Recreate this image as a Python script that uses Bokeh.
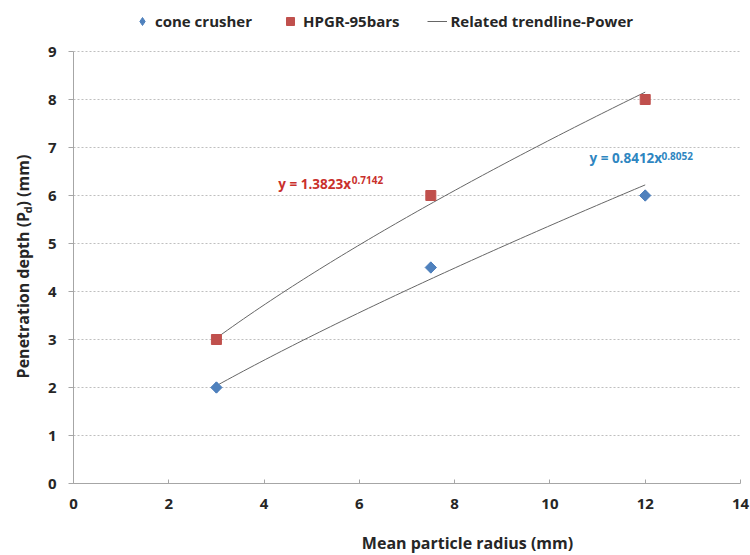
import numpy as np
from bokeh.plotting import figure
from bokeh.models import Legend, LegendItem, Label, Range1d, FixedTicker
from bokeh.embed import file_html
from bokeh.resources import INLINE

# ---- data ----
radius_cone = [3, 7.5, 12]
depth_cone = [2, 4.5, 6]
radius_hpgr = [3, 7.5, 12]
depth_hpgr = [3, 6, 8]
# power trendline coefficients shown on the chart (y = a * x^b)
cone_a, cone_b = 0.8412, 0.8052
hpgr_a, hpgr_b = 1.3823, 0.7142
x_ticks = [0, 2, 4, 6, 8, 10, 12, 14]
y_ticks = [0, 1, 2, 3, 4, 5, 6, 7, 8, 9]

trend_x = np.linspace(min(radius_cone), max(radius_cone), 80)
trend_cone = cone_a * trend_x ** cone_b
trend_hpgr = hpgr_a * trend_x ** hpgr_b

BLUE = "#4F81BD"
RED = "#C0504D"
FONT = "Open Sans"
TXT = "#262626"
GRID = "#BFBFBF"

# plot area spans x 0..14 (px 73..740) and y 0..9 (px 483..51);
# the frame fills the whole canvas so that titles and legend are not clipped
W, H = 750, 555
L, R, T, B = 73, 10, 51, 72
sx = (W - L - R) / 14.0
sy = (H - T - B) / 9.0
p = figure(width=W, height=H, output_backend="svg", toolbar_location=None, title=None,
           x_range=Range1d(-L / sx, 14 + R / sx), y_range=Range1d(-B / sy, 9 + T / sy),
           min_border=0, min_border_left=0, min_border_right=0,
           min_border_top=0, min_border_bottom=0)
p.outline_line_color = None
p.background_fill_color = "white"

# grid: horizontal dotted lines over the plot area only
p.xgrid.grid_line_color = None
p.ygrid.grid_line_color = None
p.segment(x0=[x_ticks[0]] * len(y_ticks), y0=y_ticks,
          x1=[x_ticks[-1]] * len(y_ticks), y1=y_ticks,
          line_color=GRID, line_dash="2 2", line_width=1)

# axes
p.xaxis.ticker = FixedTicker(ticks=x_ticks)
p.yaxis.ticker = FixedTicker(ticks=y_ticks)
p.xaxis.fixed_location = 0
p.yaxis.fixed_location = 0
p.xaxis.bounds = (0, 14)
p.yaxis.bounds = (0, 9)
for ax in (p.xaxis[0], p.yaxis[0]):
    ax.axis_line_color = "#A6A6A6"
    ax.major_tick_line_color = "#A6A6A6"
    ax.minor_tick_line_color = None
    ax.major_label_text_font = FONT
    ax.major_label_text_font_style = "bold"
    ax.major_label_text_font_size = "15px"
    ax.major_label_text_color = TXT
p.xaxis.major_tick_in = 4
p.xaxis.major_tick_out = 0
p.xaxis.major_label_standoff = 15
p.yaxis.major_tick_in = 0
p.yaxis.major_tick_out = 5
p.yaxis.major_label_standoff = 12

# trendlines
l1 = p.line(trend_x, trend_hpgr, line_color="#666666", line_width=1)
p.line(trend_x, trend_cone, line_color="#666666", line_width=1)

# data points (diamond = rotated square; the narrower diamond underneath is the legend key)
r_cone_key = p.scatter(radius_cone, depth_cone, marker="diamond", size=11,
                       fill_color=BLUE, line_color=BLUE)
p.scatter(radius_cone, depth_cone, marker="square", angle=np.pi / 4, size=8,
          fill_color=BLUE, line_color=BLUE)
r_hpgr = p.scatter(radius_hpgr, depth_hpgr, marker="square", size=10,
                   fill_color=RED, line_color=RED)

legend = Legend(items=[LegendItem(label="cone crusher", renderers=[r_cone_key]),
                       LegendItem(label="HPGR-95bars", renderers=[r_hpgr]),
                       LegendItem(label="Related trendline-Power", renderers=[l1])],
                orientation="horizontal", location=(132, 524),
                label_text_font=FONT, label_text_font_style="bold",
                label_text_font_size="15px", label_text_color=TXT,
                border_line_color=None, background_fill_alpha=0,
                spacing=28, glyph_width=20, label_standoff=3,
                margin=0, padding=0)
p.add_layout(legend)

# trendline equations
eq_font = "13.5px"
sup_font = "10px"
RED_T = "#C9302C"
BLUE_T = "#2E86C1"
dy = 6 / sy
for x, y, t, f, c in [(4.30, 6.125, "y = 1.3823x", eq_font, RED_T),
                      (5.84, 6.19, "0.7142", sup_font, RED_T),
                      (10.83, 6.646, "y = 0.8412x", eq_font, BLUE_T),
                      (12.34, 6.70, "0.8052", sup_font, BLUE_T)]:
    p.add_layout(Label(x=x, y=y + dy, text=t, text_font=FONT, text_font_style="bold",
                       text_font_size=f, text_color=c, text_baseline="alphabetic"))

# axis titles
p.add_layout(Label(x=8.27, y=-1.375 + 7 / sy, text="Mean particle radius (mm)", text_font=FONT,
                   text_font_style="bold", text_font_size="16px", text_color=TXT,
                   text_align="center", text_baseline="alphabetic"))
ang = np.pi / 2
dx = 6 / sx
for x, y, t, f in [(-0.924, 2.19, "Penetration depth (P", "16px"),
                   (-0.845, 5.63, "d", "11px"),
                   (-0.924, 5.77, ") (mm)", "16px")]:
    p.add_layout(Label(x=x - dx, y=y, text=t, angle=ang, text_font=FONT, text_font_style="bold",
                       text_font_size=f, text_color=TXT, text_baseline="alphabetic"))

open("out.html", "w").write(file_html(p, INLINE))
